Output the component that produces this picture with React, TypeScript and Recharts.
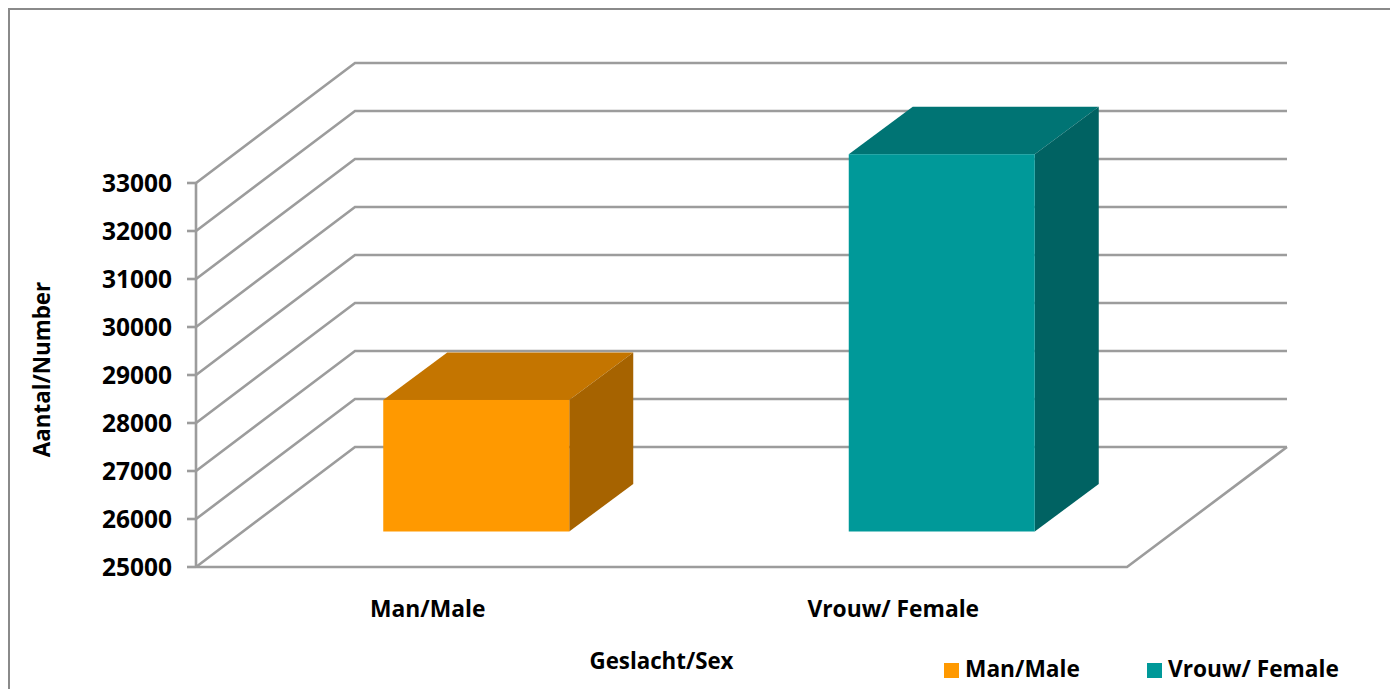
import React from 'react';
import { BarChart, Bar, XAxis, YAxis, CartesianGrid, Legend } from 'recharts';

const categories = ['Man/Male', 'Vrouw/ Female'];
const maleValues = [27730, null];
const femaleValues = [null, 32850];
const yTicks = [25000, 26000, 27000, 28000, 29000, 30000, 31000, 32000, 33000];

const rows = categories.map((category, i) => ({
  category,
  male: maleValues[i],
  female: femaleValues[i],
}));

const FONT = '"Open Sans", sans-serif';
const GRID = '#9c9c9c';
const FLOOR_DX = 159;
const FLOOR_DY = -120;
const BAR_DX = 47.25;
const BAR_DY = -36;
const DEPTH_DX = 64;
const DEPTH_DY = -47.5;
const BASE_Y = 567;

const GridLine = (p: any) => {
  const { x1, x2, y1 } = p;
  const isFloor = Math.abs(y1 - BASE_Y) < 1;
  const pts = `${x1},${y1} ${x1 + FLOOR_DX},${y1 + FLOOR_DY} ${x2 + FLOOR_DX + 1},${y1 + FLOOR_DY}`;
  return (
    <g key={p.key ?? y1}>
      <polyline points={pts} fill="none" stroke={GRID} strokeWidth={2.6} />
      {isFloor && (
        <polyline
          points={`${x2 + FLOOR_DX + 1},${y1 + FLOOR_DY} ${x2},${y1} ${x1},${y1}`}
          fill="none"
          stroke={GRID}
          strokeWidth={2.6}
        />
      )}
    </g>
  );
};

const box = (front: string, top: string, side: string) => (p: any) => {
  const { x, y, width, value } = p;
  const v = Array.isArray(value) ? value[1] - value[0] : value;
  if (!v) return <g />;
  const l = x + BAR_DX;
  const r = l + width;
  const t = y + BAR_DY;
  const b = BASE_Y + BAR_DY + 0.5;
  return (
    <g>
      <polygon
        points={`${l},${t} ${l + DEPTH_DX},${t + DEPTH_DY} ${r + DEPTH_DX},${t + DEPTH_DY} ${r},${t}`}
        fill={top}
      />
      <polygon
        points={`${r},${t} ${r + DEPTH_DX},${t + DEPTH_DY} ${r + DEPTH_DX},${b + DEPTH_DY} ${r},${b}`}
        fill={side}
      />
      <rect x={l} y={t} width={width} height={b - t} fill={front} />
    </g>
  );
};

const LegendBox = ({ payload }: any) => {
  const lefts = [944, 1147];
  return (
    <div style={{ position: 'relative', width: 446, height: 30, fontFamily: FONT }}>
      {(payload || []).map((e: any, i: number) => (
        <div
          key={e.value}
          style={{
            position: 'absolute',
            left: lefts[i] - 944,
            top: 0,
            whiteSpace: 'nowrap',
            fontWeight: 700,
            fontSize: 22.7,
            lineHeight: '28px',
            color: '#000',
          }}
        >
          <span
            style={{
              display: 'inline-block',
              width: 15,
              height: 15,
              background: e.color,
              marginRight: 6,
              verticalAlign: '-1px',
            }}
          />
          {e.value}
        </div>
      ))}
    </div>
  );
};

const YTitle = () => (
  <text
    x={41}
    y={369.5}
    transform="rotate(-90 41 369.5)"
    textAnchor="middle"
    dominantBaseline="central"
    fill="#000"
    fontFamily={FONT}
    fontWeight={700}
    fontSize={22.4}
  >
    Aantal/Number
  </text>
);

export default function App() {
  return (
    <div style={{ position: 'absolute', left: 0, top: 0, width: 1390, height: 689, overflow: 'hidden', background: '#fff' }}>
      <div
        style={{
          position: 'absolute',
          left: 8,
          top: 8,
          right: -5,
          bottom: -5,
          borderLeft: '2px solid #8a8a8a',
          borderTop: '2px solid #8a8a8a',
        }}
      />
      <div style={{ position: 'absolute', left: 0, top: 0 }}>
        <BarChart
          width={1390}
          height={689}
          data={rows}
          margin={{ top: 183, right: 263, bottom: 0, left: 0 }}
          barSize={186}
        >
          <CartesianGrid vertical={false} horizontal={GridLine as any} stroke={GRID} />
          <XAxis
            dataKey="category"
            height={122}
            tickLine={false}
            axisLine={false}
            interval={0}
            tickMargin={28}
            tick={{ fill: '#000', fontFamily: FONT, fontWeight: 700, fontSize: 22.8, dx: -1 }}
            label={{
              value: 'Geslacht/Sex',
              position: 'insideBottom',
              offset: 20,
              fill: '#000',
              fontFamily: FONT,
              fontWeight: 700,
              fontSize: 22.3,
            }}
          />
          <XAxis xAxisId="female" dataKey="category" hide />
          <YAxis
            width={196}
            domain={[25000, 33000]}
            ticks={yTicks}
            interval={0}
            tickSize={9}
            tickMargin={15}
            axisLine={{ stroke: GRID, strokeWidth: 2.6 }}
            tickLine={{ stroke: GRID, strokeWidth: 2.6 }}
            tick={{ fill: '#000', fontFamily: FONT, fontWeight: 700, fontSize: 24.5 }}
            label={{ value: 'Aantal/Number', content: YTitle as any }}
          />
          <Legend
            verticalAlign="middle"
            align="center"
            wrapperStyle={{ position: 'absolute', left: 944, top: 655, width: 446 }}
            content={LegendBox as any}
          />
          <Bar
            dataKey="male"
            name="Man/Male"
            fill="#FF9900"
            isAnimationActive={false}
            shape={box('#FF9900', '#C47500', '#A66300')}
          />
          <Bar
            xAxisId="female"
            dataKey="female"
            name="Vrouw/ Female"
            fill="#009999"
            isAnimationActive={false}
            shape={box('#009999', '#007474', '#006262')}
          />
        </BarChart>
      </div>
    </div>
  );
}
